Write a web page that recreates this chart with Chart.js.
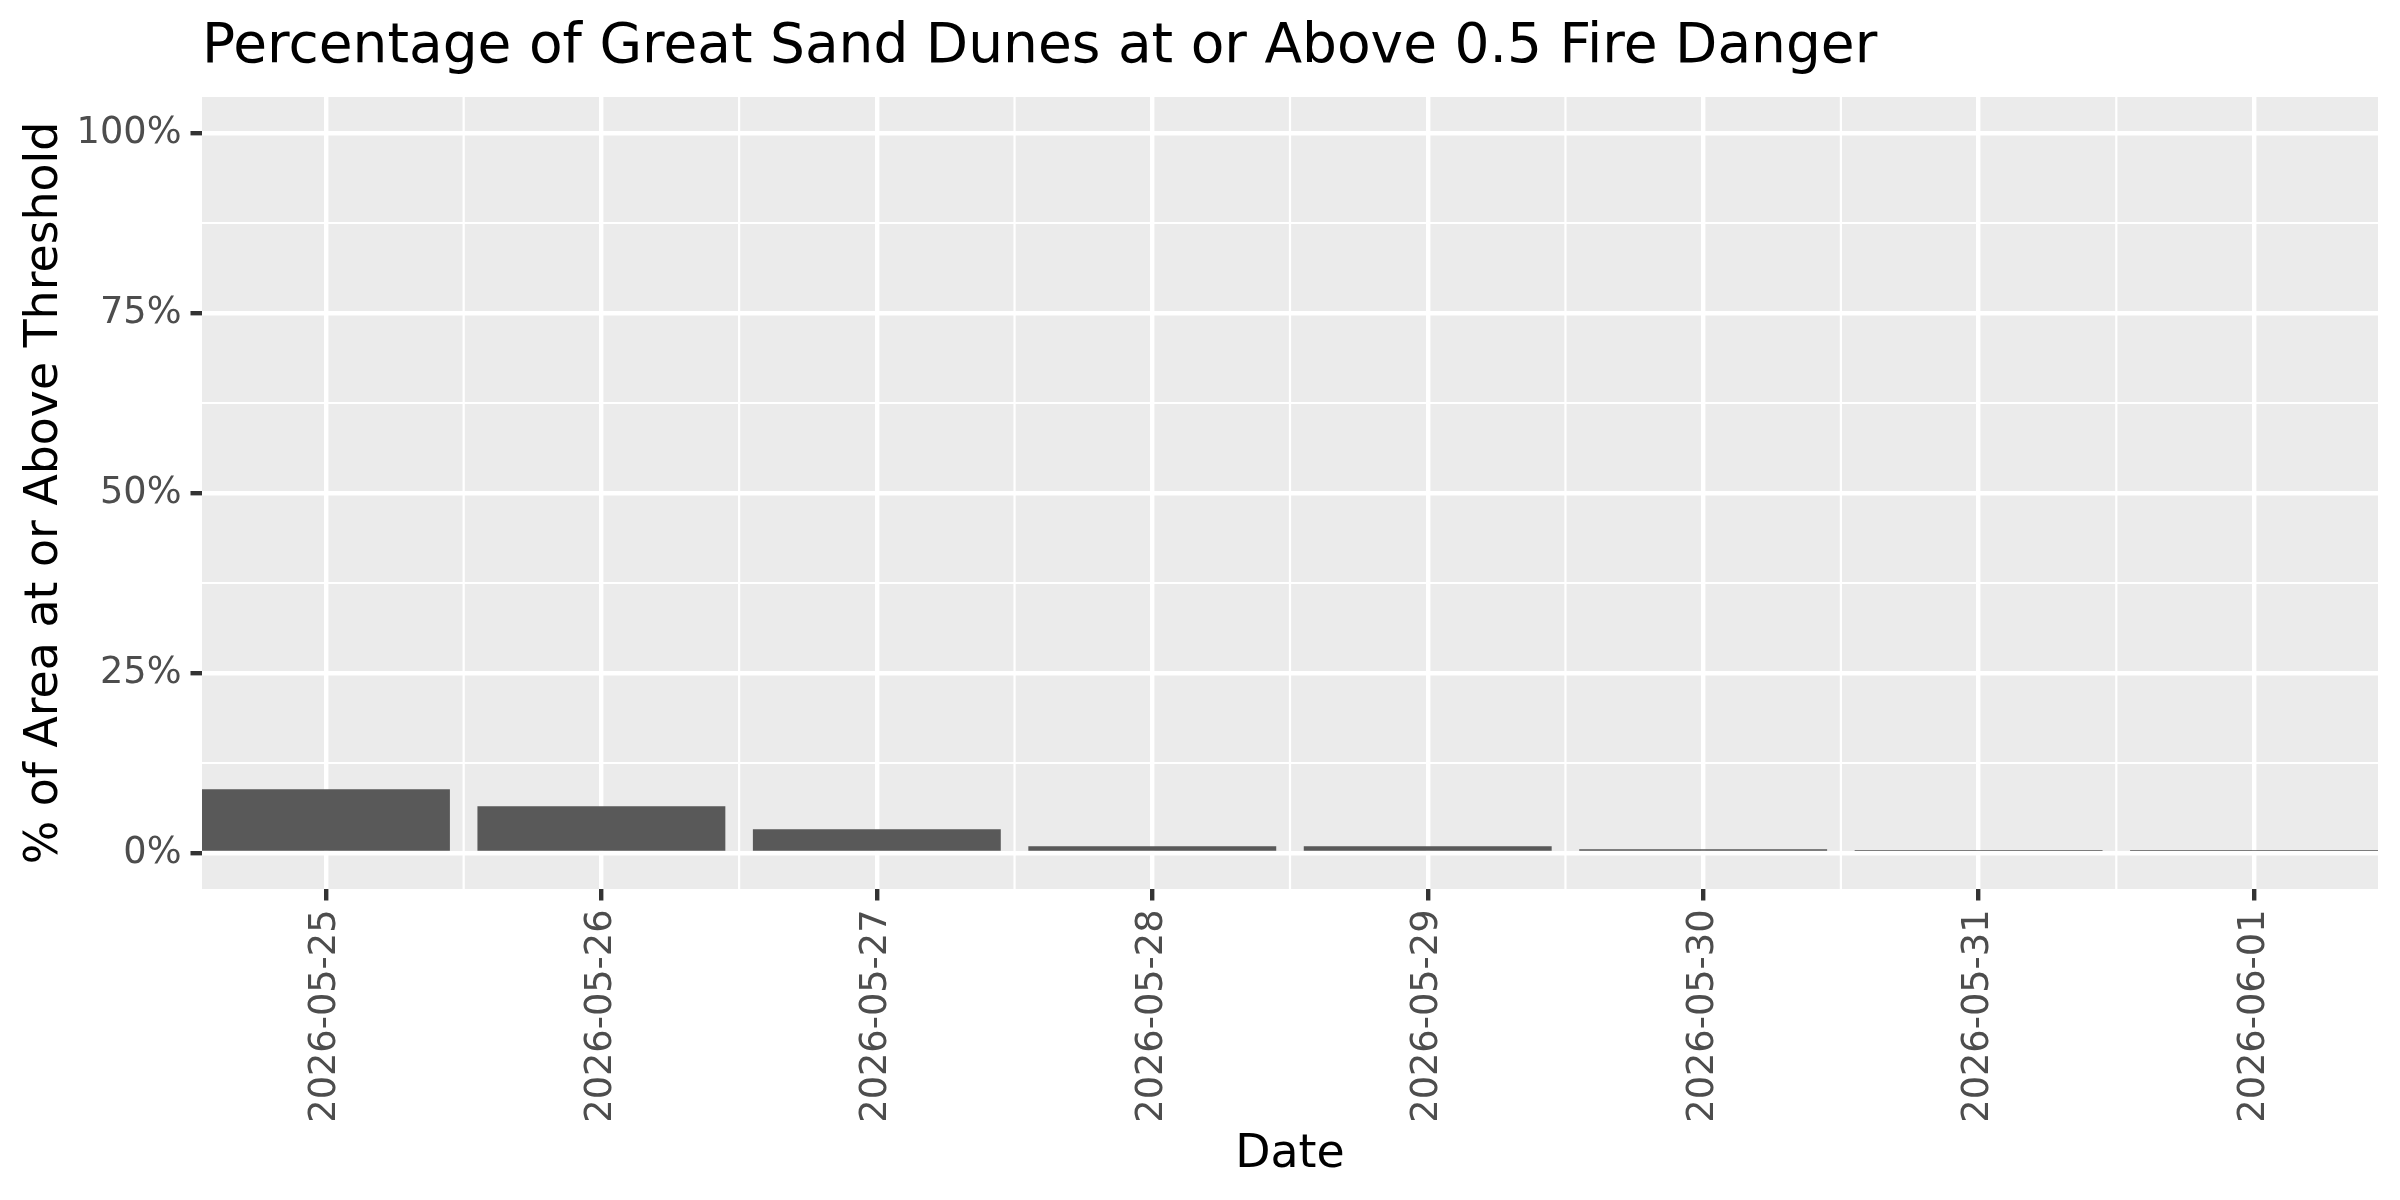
<!DOCTYPE html>
<html>
<head>
<meta charset="utf-8">
<script src="https://cdn.jsdelivr.net/npm/chart.js@4.4.1/dist/chart.umd.min.js"></script>
<style>
  body { margin: 0; background: #fff; }
  canvas { display: block; }
</style>
</head>
<body>
<canvas id="fireChart" width="2400" height="1200" style="width:2400px;height:1200px"></canvas>
<script>
const dates = ['2026-05-25', '2026-05-26', '2026-05-27', '2026-05-28',
               '2026-05-29', '2026-05-30', '2026-05-31', '2026-06-01'];
const pctValues = [8.85, 6.48, 3.29, 0.93, 0.93, 0.51, 0.40, 0.40];
const yTicks = [0, 25, 50, 75, 100];

const FONT = 'DejaVu Sans';

// grey panel behind everything, minor grid lines under the bars
const panelPlugin = {
    id: 'panel',
    beforeDraw(chart) {
        const {ctx, chartArea: a} = chart;
        ctx.save();
        ctx.fillStyle = '#ffffff';
        ctx.fillRect(0, 0, chart.width, chart.height);
        ctx.fillStyle = '#EBEBEB';
        ctx.fillRect(a.left, a.top, a.right - a.left, a.bottom - a.top);
        ctx.restore();
    },
    beforeDatasetsDraw(chart) {
        const {ctx, chartArea: a, scales} = chart;
        ctx.save();
        ctx.strokeStyle = '#ffffff';
        ctx.lineWidth = 2.2;
        ctx.beginPath();
        for (let i = 1; i < dates.length; i++) {
            const x = scales.x.getPixelForValue(i + 0.5);
            ctx.moveTo(x, a.top);
            ctx.lineTo(x, a.bottom);
        }
        for (let i = 1; i < yTicks.length; i++) {
            const y = scales.y.getPixelForValue((yTicks[i - 1] + yTicks[i]) / 2);
            ctx.moveTo(a.left, y);
            ctx.lineTo(a.right, y);
        }
        ctx.stroke();
        ctx.restore();
    }
};

const gridOpts = {
    offset: false,
    color: '#ffffff',
    lineWidth: 4.4,
    tickColor: '#333333',
    tickWidth: 4.4,
    tickLength: 11.5
};
const tickFont = {family: FONT, size: 36.7};
const titleFont = {family: FONT, size: 45.8};

new Chart(document.getElementById('fireChart'), {
    type: 'bar',
    data: {
        datasets: [{
            data: pctValues.map((v, i) => ({x: i + 1, y: v})),
            backgroundColor: '#595959',
            barPercentage: 0.9,
            categoryPercentage: 1.0
        }]
    },
    options: {
        responsive: false,
        animation: false,
        devicePixelRatio: 1,
        layout: {padding: {top: 0, right: 22, bottom: 0, left: 0}},
        plugins: {
            legend: {display: false},
            tooltip: {enabled: false},
            title: {
                display: true,
                text: 'Percentage of Great Sand Dunes at or Above 0.5 Fire Danger',
                align: 'start',
                fullSize: false,
                color: '#000000',
                font: {family: FONT, size: 55, weight: 'normal', lineHeight: 1.2},
                padding: {top: 15, bottom: 16}
            }
        },
        scales: {
            x: {
                type: 'linear',
                min: 0.55,
                max: 8.45,
                offset: false,
                afterBuildTicks: s => { s.ticks = dates.map((d, i) => ({value: i + 1})); },
                afterFit: s => { s.height = 311; },
                grid: gridOpts,
                border: {display: false},
                ticks: {
                    autoSkip: false,
                    minRotation: 90,
                    maxRotation: 90,
                    padding: 9,
                    color: '#4D4D4D',
                    font: tickFont,
                    callback: v => dates[Math.round(v) - 1]
                },
                title: {
                    display: true,
                    text: 'Date',
                    color: '#000000',
                    font: titleFont,
                    padding: {top: 0, bottom: 17}
                }
            },
            y: {
                min: -5,
                max: 105,
                afterBuildTicks: s => { s.ticks = yTicks.map(v => ({value: v})); },
                afterFit: s => { s.width = 202; },
                grid: gridOpts,
                border: {display: false},
                ticks: {
                    padding: 9,
                    color: '#4D4D4D',
                    font: tickFont,
                    callback: v => v + '%'
                },
                title: {
                    display: true,
                    text: '% of Area at or Above Threshold',
                    color: '#000000',
                    font: titleFont,
                    padding: {top: 18, bottom: 0}
                }
            }
        }
    },
    plugins: [panelPlugin]
});
</script>
</body>
</html>
